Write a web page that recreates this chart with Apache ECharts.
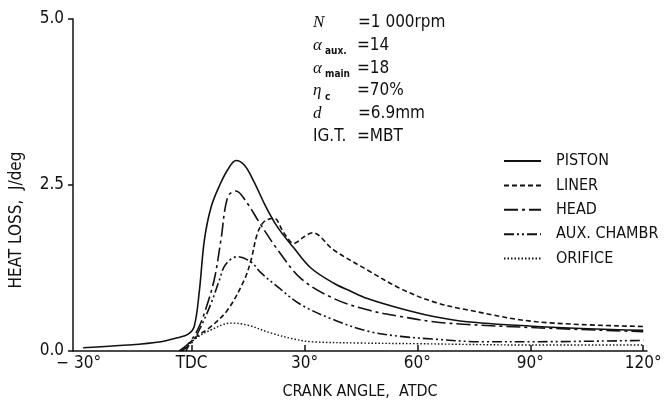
<!DOCTYPE html>
<html>
<head>
<meta charset="utf-8">
<script src="https://cdn.jsdelivr.net/npm/echarts@6/dist/echarts.min.js"></script>
<style>
html,body{margin:0;padding:0;background:#fff;}
#c{width:667px;height:405px;}
</style>
</head>
<body>
<div id="c"></div>
<script>
// ---- data (crank angle in degrees ATDC, heat loss in J/deg) ----
var seriesNames = ['PISTON', 'LINER', 'HEAD', 'AUX. CHAMBR', 'ORIFICE'];

var pistonX = [-28.8, -16.9, -8.1, -3.7, -1, 0.7, 2.1, 3.4, 5.2, 7.5, 9.6, 11.8, 14, 16.5, 19.5, 22.8, 27.2, 31.7, 37.8, 42.3, 46.7, 55.5, 64.3, 73.2, 91.7, 120];
var pistonY = [0.05, 0.09, 0.14, 0.2, 0.25, 0.37, 0.92, 1.67, 2.17, 2.5, 2.73, 2.87, 2.8, 2.56, 2.2, 1.87, 1.55, 1.25, 1.02, 0.9, 0.79, 0.64, 0.52, 0.44, 0.37, 0.31];

var linerX = [-1.5, 0.3, 5.2, 9.6, 14, 15.8, 17.5, 19.3, 21.9, 24.5, 27.2, 29.9, 32.1, 37.8, 46.7, 55.5, 64.3, 73.2, 91.7, 120];
var linerY = [0, 0.17, 0.37, 0.62, 1.07, 1.37, 1.77, 1.95, 2.0, 1.78, 1.62, 1.72, 1.78, 1.52, 1.22, 0.94, 0.74, 0.62, 0.44, 0.37];

var headX = [-3.3, -0.7, 1.6, 3.4, 6.0, 7.8, 9.6, 11.8, 14.5, 18.4, 22.8, 29.1, 37.8, 46.7, 55.5, 64.3, 73.2, 91.7, 120];
var headY = [0, 0.12, 0.32, 0.57, 1.07, 1.67, 2.32, 2.41, 2.25, 1.9, 1.53, 1.09, 0.79, 0.62, 0.52, 0.44, 0.4, 0.35, 0.29];

var auxX = [-2.8, 0, 2.5, 5.2, 7.4, 9, 12.2, 15.8, 18.4, 22.8, 29.0, 37.8, 46.7, 55.5, 64.3, 76.7, 91.7, 120];
var auxY = [0, 0.12, 0.37, 0.72, 1.07, 1.3, 1.42, 1.34, 1.18, 0.97, 0.70, 0.47, 0.3, 0.22, 0.18, 0.14, 0.14, 0.16];

var orificeX = [-2.3, 0.7, 5.2, 10.5, 14.9, 21.1, 27.2, 31.7, 45, 60, 90, 120];
var orificeY = [0, 0.17, 0.32, 0.42, 0.39, 0.27, 0.18, 0.14, 0.12, 0.11, 0.09, 0.09];

var xTickValues = [-30, 0, 30, 60, 90, 120];
var xTickMarks = [0, 30, 60, 90, 120];

function pairs(xs, ys) { return xs.map(function (x, i) { return [x, ys[i]]; }); }

var FONT = '"Liberation Sans Narrow", "DejaVu Sans Condensed", "Liberation Sans", sans-serif';

var dashes = ['solid', [5, 3], [14, 4, 3, 4], [10, 3, 2, 3, 2, 3], [1.5, 2]];
var dataSets = [pairs(pistonX, pistonY), pairs(linerX, linerY), pairs(headX, headY), pairs(auxX, auxY), pairs(orificeX, orificeY)];

var chart = echarts.init(document.getElementById('c'), null, { renderer: 'canvas' });

var series = seriesNames.map(function (n, i) {
  return {
    name: n,
    type: 'line',
    data: dataSets[i],
    smooth: 0.35,
    symbol: 'none',
    showSymbol: false,
    silent: true,
    animation: false,
    lineStyle: { color: '#111', width: i === 4 ? 1.4 : 1.6, type: dashes[i] },
    itemStyle: { color: '#111' }
  };
});

chart.setOption({
  animation: false,
  backgroundColor: '#fff',
  grid: { left: 72, right: 20, top: 19, bottom: 54, containLabel: false },
  xAxis: {
    type: 'value',
    min: -31.5,
    max: 121,
    splitLine: { show: false },
    axisLine: { onZero: false, lineStyle: { color: '#111', width: 1.5 } },
    axisTick: { show: true, inside: true, length: 6, customValues: xTickMarks, lineStyle: { color: '#111', width: 1.5 } },
    axisLabel: {
      customValues: xTickValues,
      color: '#111', fontFamily: FONT, fontSize: 17, margin: 4,
      formatter: function (v) {
        if (v === 0) return 'TDC';
        if (v < 0) return '\u2212 ' + Math.abs(v) + '\u00b0';
        return v + '\u00b0';
      }
    },
    name: 'CRANK ANGLE,  ATDC',
    nameLocation: 'middle',
    nameGap: 33,
    nameTextStyle: { color: '#111', fontFamily: FONT, fontSize: 16 }
  },
  yAxis: {
    type: 'value',
    min: 0,
    max: 5,
    interval: 2.5,
    splitLine: { show: false },
    axisLine: { show: true, onZero: false, lineStyle: { color: '#111', width: 1.5 } },
    axisTick: { show: true, length: 5, lineStyle: { color: '#111', width: 1.5 } },
    axisLabel: {
      color: '#111', fontFamily: FONT, fontSize: 17, margin: 9,
      formatter: function (v) { return v.toFixed(1); }
    },
    name: 'HEAT LOSS,  J/deg',
    nameLocation: 'middle',
    nameGap: 48,
    nameRotate: 90,
    nameTextStyle: { color: '#111', fontFamily: FONT, fontSize: 17, padding: [0, 0, 0, -70] }
  },
  legend: {
    orient: 'vertical',
    left: 498,
    top: 148,
    itemWidth: 37,
    itemHeight: 14,
    itemGap: 8.4,
    data: seriesNames,
    selectedMode: false,
    itemStyle: { opacity: 0 },
    textStyle: { color: '#111', fontFamily: FONT, fontSize: 16, padding: [0, 0, 0, 10] }
  },
  graphic: [
    {
      type: 'text',
      left: 313,
      top: 14,
      style: {
        text: [
          '{v|N}{g1| }{e|=1 000rpm}',
          '{v|\u03b1}{s|aux.}{g2| }{e|=14}',
          '{v|\u03b1}{s|main}{e|=18}',
          '{v|\u03b7}{s|c}{g3| }{e|=70%}',
          '{v|d}{g1| }{e|=6.9mm}',
          '{t|IG.T.}{g4| }{e|=MBT}'
        ].join('\n'),
        rich: {
          v: { fontFamily: '"Liberation Serif", "DejaVu Serif", serif', fontStyle: 'italic', fontSize: 17, lineHeight: 22.8, fill: '#111', width: 12 },
          s: { fontFamily: FONT, fontSize: 10, fontWeight: 'bold', fill: '#111', verticalAlign: 'bottom', lineHeight: 22.8, width: 32, padding: [8, 0, 0, 0] },
          e: { fontFamily: FONT, fontSize: 17, fill: '#111', lineHeight: 22.8 },
          t: { fontFamily: FONT, fontSize: 17, fill: '#111', lineHeight: 22.8, width: 38 },
          g1: { width: 33, lineHeight: 22.8 },
          g2: { width: 0, lineHeight: 22.8 },
          g3: { width: 0, lineHeight: 22.8 },
          g4: { width: 6, lineHeight: 22.8 }
        }
      }
    }
  ],
  series: series
});
</script>
</body>
</html>
